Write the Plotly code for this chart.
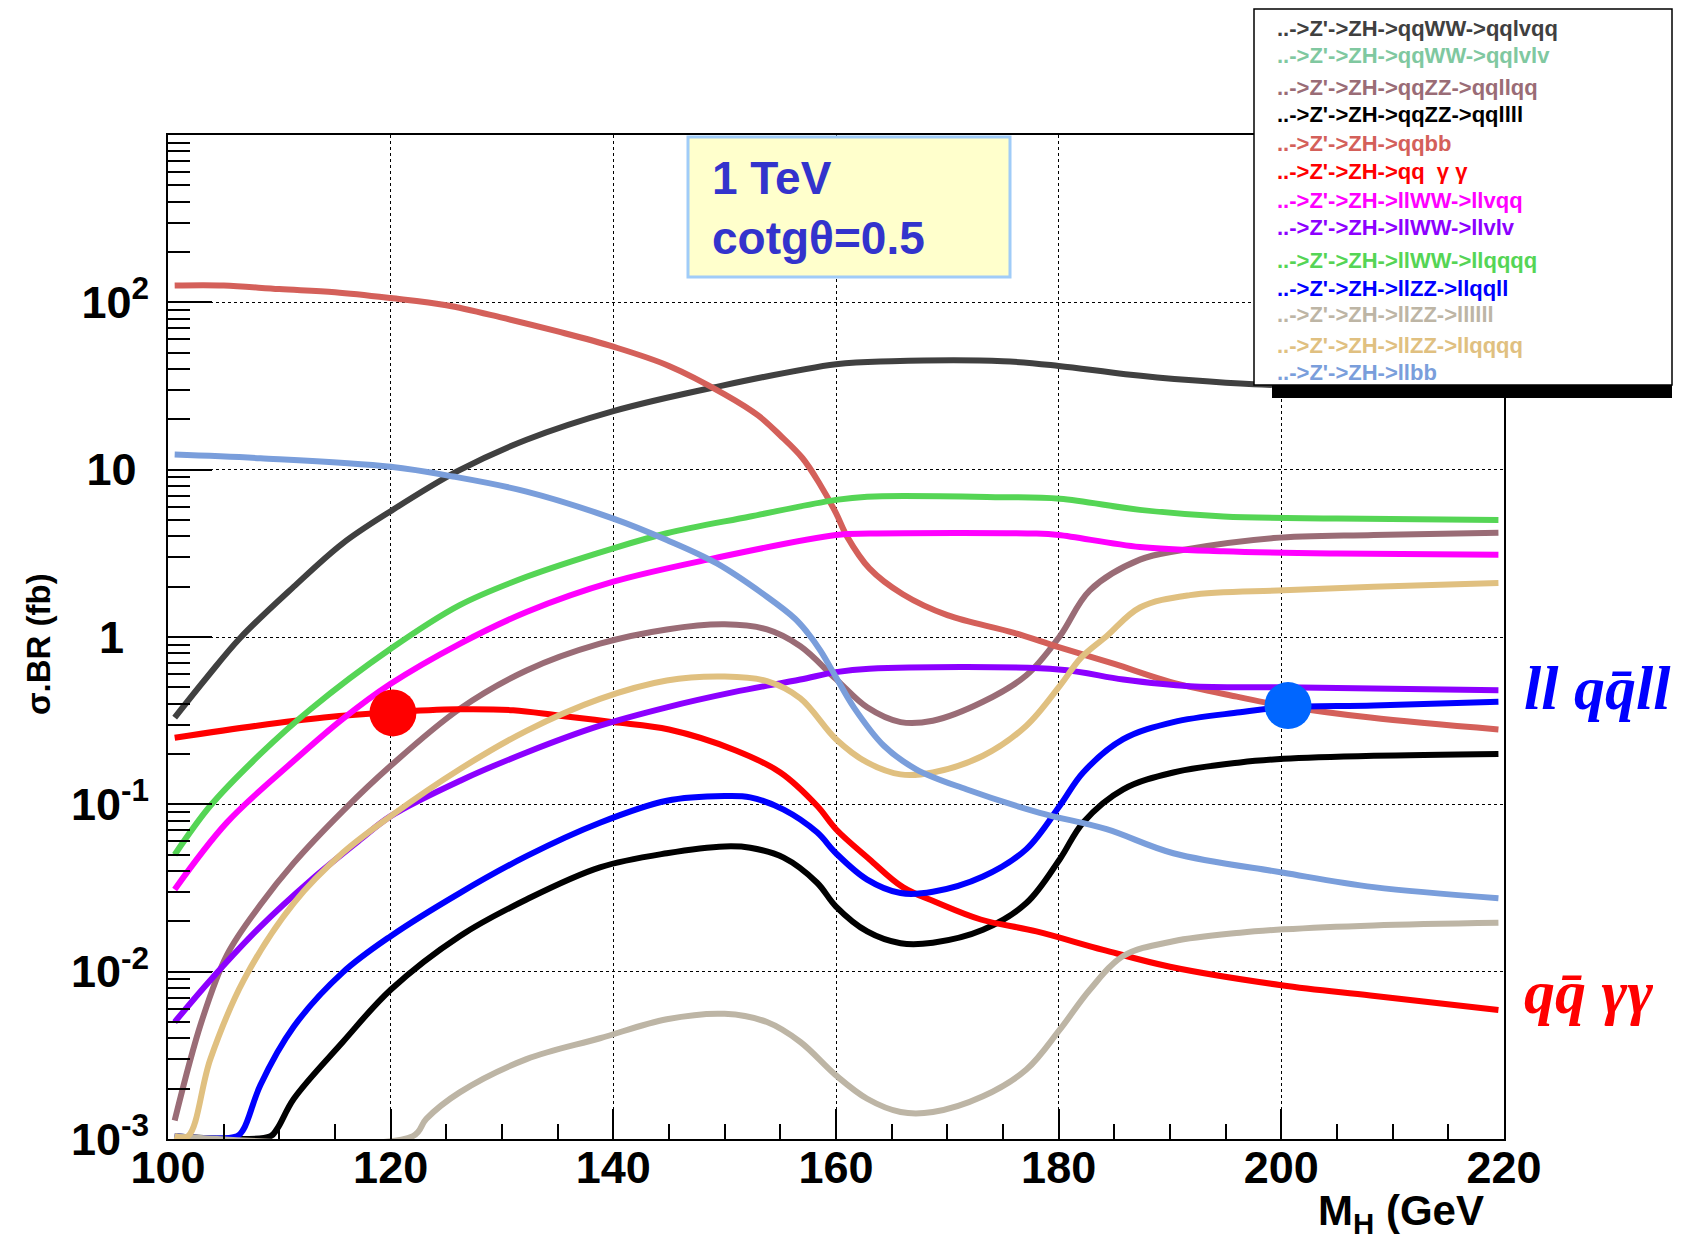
import plotly.graph_objects as go

# ---------------- data ----------------
x_ticks_major = [100, 120, 140, 160, 180, 200, 220]
y_tickvals = [1e-3, 1e-2, 1e-1, 1, 10, 100]
y_ticktext = ["10<sup>-3</sup>", "10<sup>-2</sup>", "10<sup>-1</sup>", "1\u00a0\u00a0", "10\u00a0", "10<sup>2</sup>"]

mh_qqlvqq = [100.6, 103.5, 106.5, 111.3, 115.7, 120, 126, 132.2, 140, 149, 160, 165, 175, 180, 186, 192, 197.5, 205, 212, 219.5]
xs_qqlvqq = [0.33, 0.575, 0.99, 2.0, 3.63, 5.65, 9.8, 15.1, 22.4, 31, 42.7, 44.5, 44.5, 41.7, 37.2, 34.2, 32.4, 31.5, 31, 30.5]

mh_qqlvlv = []
xs_qqlvlv = []

mh_qqllqq = [100.6, 103, 105.3, 108.3, 111.3, 115.7, 120, 126.2, 132.2, 138.8, 144.8, 150, 153.8, 156.8, 160, 162.8, 165.8, 168.7, 173.2, 177.1, 180.1, 182.8, 187.3, 191, 199.3, 208.3, 219.5]
xs_qqllqq = [0.00129, 0.005, 0.0126, 0.0251, 0.0447, 0.0912, 0.17, 0.372, 0.631, 0.912, 1.11, 1.19, 1.11, 0.88, 0.56, 0.38, 0.31, 0.316, 0.41, 0.59, 1.01, 1.9, 2.9, 3.3, 3.9, 4.07, 4.2]

mh_qqllll = [100.6, 109.2, 109.8, 111.3, 115.7, 120, 126.2, 132.2, 138.8, 144.8, 150, 152.3, 155.3, 158.3, 160, 162.8, 165.8, 168.7, 173.2, 177.1, 180.1, 182.2, 185.8, 190.3, 196.3, 200.2, 208.3, 219.5]
xs_qqllll = [0.00104, 0.00104, 0.00115, 0.00174, 0.0038, 0.0078, 0.0163, 0.027, 0.042, 0.051, 0.056, 0.055, 0.048, 0.034, 0.0245, 0.0174, 0.0148, 0.0149, 0.0178, 0.0257, 0.047, 0.078, 0.123, 0.155, 0.178, 0.187, 0.195, 0.20]

mh_qqbb = [100.6, 105, 110, 115, 120, 125, 130, 135, 140, 145, 150, 153, 155, 157, 158.5, 160, 161, 163, 166, 170, 176, 180, 185, 190, 196, 200, 208, 219.5]
xs_qqbb = [126, 126, 120, 115, 106, 96, 81, 67, 54.3, 41.7, 28.2, 21.1, 16, 11.7, 8.3, 5.5, 3.98, 2.57, 1.8, 1.35, 1.06, 0.87, 0.69, 0.54, 0.44, 0.39, 0.33, 0.28]

mh_qqgg = [100.6, 108, 114, 120, 126, 131, 135, 140, 145, 151, 155, 158.3, 160, 163, 166, 169, 173, 178, 184, 190, 200, 208, 219.5]
xs_qqgg = [0.25, 0.295, 0.33, 0.355, 0.37, 0.365, 0.34, 0.31, 0.28, 0.21, 0.155, 0.098, 0.071, 0.047, 0.032, 0.026, 0.0205, 0.0174, 0.0135, 0.0107, 0.0083, 0.0072, 0.0059]

mh_llvqq = [100.6, 105.3, 111.3, 115.7, 120, 126.2, 132.2, 140, 149, 160, 163, 178, 180, 187.3, 194.8, 205, 219.5]
xs_llvqq = [0.031, 0.078, 0.182, 0.324, 0.525, 0.91, 1.41, 2.14, 2.95, 4.07, 4.15, 4.15, 4.07, 3.45, 3.25, 3.15, 3.1]

mh_llvlv = [100.6, 103.8, 108.3, 112.8, 117.2, 120, 126.2, 132.2, 138.8, 144.8, 150.8, 156.8, 160, 163, 180, 185.8, 191.8, 200.2, 219.5]
xs_llvlv = [0.005, 0.0089, 0.0186, 0.0351, 0.061, 0.085, 0.138, 0.204, 0.295, 0.38, 0.468, 0.557, 0.617, 0.646, 0.64, 0.557, 0.508, 0.50, 0.48]

mh_llqqqq_ww = [100.6, 103.8, 108.3, 112.8, 120, 126.2, 132.2, 140, 144.8, 152.3, 160, 162.8, 174.8, 180.1, 187.3, 194.8, 205, 219.5]
xs_llqqqq_ww = [0.050, 0.098, 0.20, 0.37, 0.85, 1.55, 2.29, 3.39, 4.17, 5.25, 6.6, 6.9, 6.85, 6.7, 5.75, 5.25, 5.1, 5.0]

mh_llqqll = [100.6, 106.2, 106.8, 108.3, 111.3, 115.7, 120, 126.2, 132.2, 138.8, 144.8, 150, 152.3, 155.3, 158.3, 160, 162.8, 165.8, 168.7, 173.2, 177.1, 180.1, 182.2, 185.8, 190.3, 196.3, 200.2, 208.3, 219.5]
xs_llqqll = [0.00104, 0.00104, 0.00115, 0.0021, 0.0047, 0.0099, 0.0163, 0.0295, 0.049, 0.0776, 0.105, 0.112, 0.11, 0.093, 0.068, 0.051, 0.0355, 0.0295, 0.03, 0.037, 0.054, 0.098, 0.155, 0.245, 0.31, 0.355, 0.38, 0.39, 0.41]

mh_llllll = [100.6, 122, 123.2, 126.2, 132.2, 138.8, 144.8, 150, 153.8, 156.8, 160, 162.8, 165.8, 168.7, 173.2, 177.1, 180.1, 182.8, 185.8, 190.3, 196.3, 200.2, 208.3, 219.5]
xs_llllll = [0.00104, 0.00104, 0.00132, 0.0019, 0.003, 0.0040, 0.0052, 0.0056, 0.005, 0.0038, 0.0024, 0.00174, 0.00145, 0.00145, 0.0018, 0.0026, 0.0045, 0.0078, 0.0124, 0.0152, 0.0171, 0.0179, 0.0189, 0.0196]

mh_llqqqq_zz = [100.6, 101.8, 103.8, 106.8, 111.3, 115.7, 120, 126.2, 132.2, 138.8, 144.8, 150, 153.8, 156.8, 160, 162.8, 165.8, 168.7, 173.2, 177.1, 180.1, 182, 184.3, 187.3, 191.8, 200.2, 208.3, 219.5]
xs_llqqqq_zz = [0.00104, 0.00104, 0.003, 0.0089, 0.0257, 0.0513, 0.085, 0.162, 0.275, 0.427, 0.55, 0.58, 0.545, 0.43, 0.245, 0.178, 0.151, 0.155, 0.195, 0.295, 0.51, 0.75, 1.01, 1.5, 1.78, 1.9, 2.0, 2.1]

mh_llbb = [100.6, 108.3, 120, 125.6, 132.2, 140, 144.8, 149.3, 153.8, 156.3, 157.4, 158.6, 160, 161.6, 164.3, 167.2, 171.7, 178.3, 184.3, 190.3, 200.2, 208.3, 219.5]
xs_llbb = [12.3, 11.7, 10.4, 9.1, 7.4, 5.1, 3.8, 2.75, 1.74, 1.29, 1.07, 0.83, 0.575, 0.38, 0.224, 0.162, 0.123, 0.089, 0.071, 0.051, 0.039, 0.032, 0.0275]

labels = [
    "..->Z'->ZH->qqWW->qqlvqq",
    "..->Z'->ZH->qqWW->qqlvlv",
    "..->Z'->ZH->qqZZ->qqllqq",
    "..->Z'->ZH->qqZZ->qqllll",
    "..->Z'->ZH->qqbb",
    "..->Z'->ZH->qq  \u03b3 \u03b3",
    "..->Z'->ZH->llWW->llvqq",
    "..->Z'->ZH->llWW->llvlv",
    "..->Z'->ZH->llWW->llqqqq",
    "..->Z'->ZH->llZZ->llqqll",
    "..->Z'->ZH->llZZ->llllll",
    "..->Z'->ZH->llZZ->llqqqq",
    "..->Z'->ZH->llbb",
]

marker_red_x = [120.2]
marker_red_y = [0.352]
marker_blue_x = [200.6]
marker_blue_y = [0.389]

# ---------------- styles ----------------
colors = ["#404040", "#80c8a0", "#9a6c76", "#000000", "#d4605a", "#ff0000",
          "#ff00ff", "#8c00ff", "#55d555", "#0000ff", "#bdb5a5", "#e0c080", "#7a9edb"]
series = [
    (mh_qqlvqq, xs_qqlvqq), (mh_qqlvlv, xs_qqlvlv), (mh_qqllqq, xs_qqllqq),
    (mh_qqllll, xs_qqllll), (mh_qqbb, xs_qqbb), (mh_qqgg, xs_qqgg),
    (mh_llvqq, xs_llvqq), (mh_llvlv, xs_llvlv), (mh_llqqqq_ww, xs_llqqqq_ww),
    (mh_llqqll, xs_llqqll), (mh_llllll, xs_llllll), (mh_llqqqq_zz, xs_llqqqq_zz),
    (mh_llbb, xs_llbb),
]

W, H = 1690, 1240
L, R, T, B = 168, 1504, 135, 1139


def px(xp):
    return (xp - L) / (R - L)


def py(yp):
    return (B - yp) / (B - T)


fig = go.Figure()
for (xv, yv), c, lab in zip(series, colors, labels):
    fig.add_trace(go.Scatter(x=xv, y=yv, mode="lines", name=lab,
                             line=dict(color=c, width=6, shape="spline", smoothing=1.0),
                             showlegend=False))

fig.add_trace(go.Scatter(x=marker_red_x, y=marker_red_y, mode="markers",
                         marker=dict(color="#ff0000", size=47), showlegend=False))
fig.add_trace(go.Scatter(x=marker_blue_x, y=marker_blue_y, mode="markers",
                         marker=dict(color="#0066ff", size=47), showlegend=False))

minor_y = [m * 10 ** e for e in range(-3, 3) for m in range(2, 10)]

bold = dict(family="Liberation Sans, Arial, sans-serif", color="black", weight="bold")

fig.update_layout(
    width=W, height=H,
    margin=dict(l=L, r=W - R, t=T, b=H - B, pad=0),
    paper_bgcolor="white", plot_bgcolor="white",
    xaxis=dict(
        range=[100, 220], tickmode="array", tickvals=x_ticks_major,
        ticks="inside", ticklen=30, tickwidth=1.5, tickcolor="black",
        showgrid=True, gridcolor="black", gridwidth=1.3, griddash="3px,3px",
        minor=dict(dtick=5, tick0=100, ticks="inside", ticklen=15, tickwidth=1.5,
                   tickcolor="black", showgrid=False),
        showline=True, linecolor="black", linewidth=2, mirror=True, zeroline=False,
        tickfont=dict(size=45, **bold), ticklabelstandoff=-12,
    ),
    yaxis=dict(
        type="log", range=[-3, 3], tickmode="array", tickvals=y_tickvals, ticktext=y_ticktext,
        ticks="inside", ticklen=44, tickwidth=1.5, tickcolor="black",
        showgrid=True, gridcolor="black", gridwidth=1.3, griddash="3px,3px",
        minor=dict(tickmode="array", tickvals=minor_y, ticks="inside", ticklen=22,
                   tickwidth=1.5, tickcolor="black", showgrid=False),
        showline=True, linecolor="black", linewidth=2, mirror=True, zeroline=False,
        tickfont=dict(size=45, **bold), ticklabelstandoff=8,
    ),
)

shapes = []
# info box
shapes.append(dict(type="rect", xref="paper", yref="paper", layer="above",
                   x0=px(688), x1=px(1010), y0=py(277), y1=py(137),
                   fillcolor="#ffffcc", line=dict(color="#a0ccf8", width=3)))
# legend shadow + box
shapes.append(dict(type="rect", xref="paper", yref="paper", layer="above",
                   x0=px(1272), x1=px(1672), y0=py(398), y1=py(385),
                   fillcolor="black", line=dict(width=0)))
shapes.append(dict(type="rect", xref="paper", yref="paper", layer="above",
                   x0=px(1254), x1=px(1672), y0=py(385), y1=py(9),
                   fillcolor="white", line=dict(color="black", width=1.5)))
fig.update_layout(shapes=shapes)

ann = []
legend_rows = [28, 55, 87, 114, 143, 172, 200, 227, 260, 288, 315, 345, 372]
for lab, c, yr in zip(labels, colors, legend_rows):
    ann.append(dict(text=lab, x=px(1275), y=py(yr), xref="paper", yref="paper",
                    xanchor="left", yanchor="middle", showarrow=False,
                    font=dict(family="Liberation Sans, Arial, sans-serif", size=22,
                              color=c, weight="bold")))

box_font = dict(family="Liberation Sans, Arial, sans-serif", size=46, color="#3333cc", weight="bold")
ann.append(dict(text="1 TeV", x=px(710), y=py(178), xref="paper", yref="paper",
                xanchor="left", yanchor="middle", showarrow=False, font=box_font))
ann.append(dict(text="cotg\u03b8=0.5", x=px(710), y=py(238), xref="paper", yref="paper",
                xanchor="left", yanchor="middle", showarrow=False, font=box_font))

ann.append(dict(text="\u03c3.BR (fb)", x=px(38), y=py(644), xref="paper", yref="paper",
                xanchor="center", yanchor="middle", textangle=-90, showarrow=False,
                font=dict(size=33, **bold)))
ann.append(dict(text="M<sub>H</sub> (GeV", x=px(1486), y=py(1213), xref="paper", yref="paper",
                xanchor="right", yanchor="middle", showarrow=False,
                font=dict(size=42, **bold)))

serif_it = dict(family="Liberation Serif, Times New Roman, serif", size=62,
                weight="bold", style="italic")
ann.append(dict(text="ll qq\u0304ll", x=px(1522), y=py(688), xref="paper", yref="paper",
                xanchor="left", yanchor="middle", showarrow=False,
                font=dict(color="#0000ff", **serif_it)))
ann.append(dict(text="qq\u0304 \u03b3\u03b3", x=px(1522), y=py(992), xref="paper", yref="paper",
                xanchor="left", yanchor="middle", showarrow=False,
                font=dict(color="#ff0000", **serif_it)))
fig.update_layout(annotations=ann)

fig.write_html("out.html")
